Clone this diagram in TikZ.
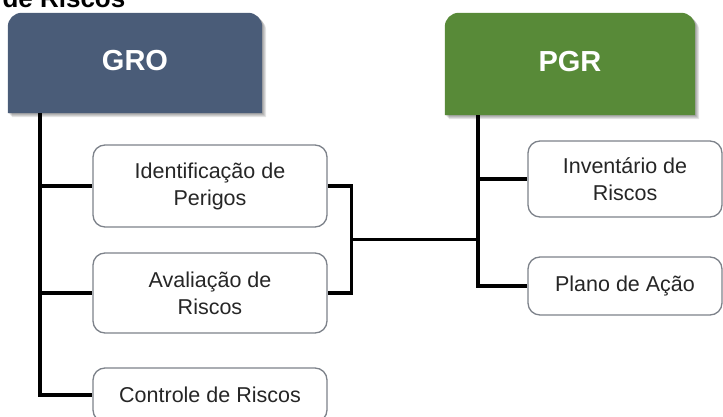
\documentclass[tikz,border=0pt]{standalone}
\usepackage{fontspec}
\setmainfont{Liberation Sans}
\usepackage {tikz}
\usetikzlibrary{positioning, backgrounds, calc}
\usepackage {xcolor}
\definecolor{groblue}{RGB}{74,92,120}
\definecolor{pgrgreen}{RGB}{88,138,56}
\definecolor{boxgray}{RGB}{125,130,138}

\begin{document}
\begin{tikzpicture}[x=1pt, y=1pt,
    head/.style={minimum width=250pt, minimum height=100pt, inner sep=0pt, text=white,
        font=\fontsize{29}{29}\selectfont\bfseries},
    item/.style={draw=boxgray, line width=1.3pt, rounded corners=12pt, fill=white,
        minimum width=234pt, align=center, inner sep=0pt, text=black!85,
        font=\fontsize{21.5}{27}\selectfont},
    wire/.style={line width=3.6pt, black}]
\useasboundingbox (0,0) rectangle (723,417);

% title, cut off at the top
\node[anchor=base west, font=\fontsize{26}{26}\selectfont\bfseries] (title) at (-1,409) {de Riscos};

% headers
\node[head, minimum width=254pt] (gro) at (135,354) {\raisebox{5pt}{GRO}};
\node[head, minimum height=102pt] (pgr) at (570,353) {\raisebox{5pt}{PGR}};

\begin{scope}[on background layer]
\foreach \n/\c in {gro/groblue, pgr/pgrgreen}{
    \foreach \s in {1,2,3,4}{
        \fill[black, opacity=0.1, transform canvas={shift={(\s pt,-\s pt)}}] (\n.south west) -- ([yshift=-14pt]\n.north west)
            arc[start angle=180, end angle=90, radius=14pt] -- ([xshift=-14pt]\n.north east)
            arc[start angle=90, end angle=0, radius=14pt] -- (\n.south east) -- cycle;
    }
    \fill[\c] (\n.south west) -- ([yshift=-14pt]\n.north west)
        arc[start angle=180, end angle=90, radius=14pt] -- ([xshift=-14pt]\n.north east)
        arc[start angle=90, end angle=0, radius=14pt] -- (\n.south east) -- cycle;
}
\end{scope}

% GRO steps
\node[item, minimum height=82pt] (idp) at (210,231) {Identificação de\\Perigos};
\node[item, minimum height=80pt] (ava) at (210,124) {Avaliação de\\Riscos};
\node[item, minimum height=54pt] (ctl) at (210,22) {Controle de Riscos};
% PGR documents
\node[item, minimum width=194pt, minimum height=76pt] (inv) at (625,238) {Inventário de\\Riscos};
\node[item, minimum width=194pt, minimum height=58pt] (pla) at (625,131) {Plano de Ação};

\coordinate (groroot) at ([xshift=32pt]gro.south west);
\draw[wire] (groroot) |- (ctl.west);
\foreach \b in {idp, ava}{
    \draw[wire] (groroot |- \b.west) -- (\b.west);
}
\coordinate (pgrroot) at ([xshift=33pt]pgr.south west);
\draw[wire] (pgrroot) |- (pla.west);
\draw[wire] (pgrroot |- inv.west) -- (inv.west);

% bracket from the first two steps
\draw[wire] (idp.east) -- ++(24,0) |- (ava.east);
\coordinate (brmid) at ([xshift=24pt]$(idp.east)!0.5!(ava.east)$);
\draw[wire] (brmid) -- (brmid -| pgrroot);

\end{tikzpicture}
\end{document}
